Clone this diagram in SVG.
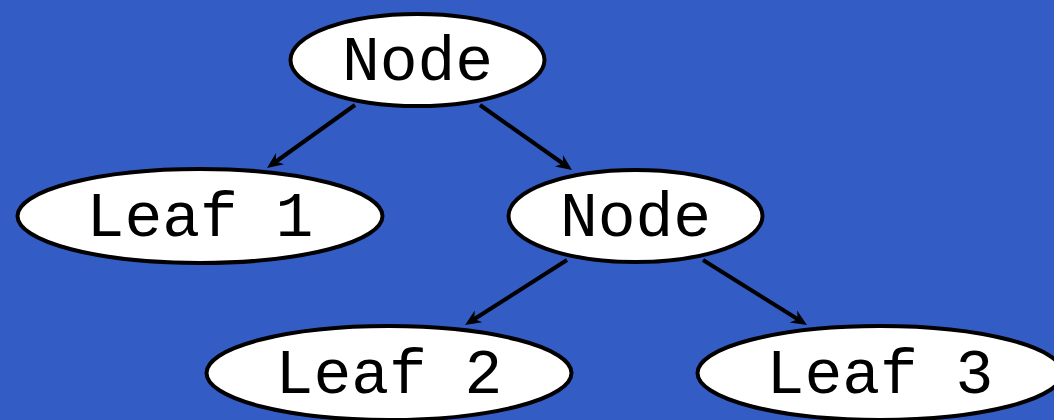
<svg xmlns="http://www.w3.org/2000/svg" width="1054" height="420" viewBox="0 0 1054 420">
<style>
.n{fill:#fff;stroke:#000;stroke-width:4}
.t{font-family:"Liberation Mono","Courier New",monospace;font-size:63px;fill:#000;text-anchor:middle}
.e{stroke:#000;stroke-width:4;fill:none}
</style>
<defs>
<marker id="ah" markerUnits="userSpaceOnUse" viewBox="-12 -8 20 16" refX="0" refY="0" markerWidth="20" markerHeight="16" orient="auto" overflow="visible">
<path d="M6,0 L-10,-7 L-5,0 L-10,7 Z" fill="#000"/>
</marker>
</defs>
<rect width="1054" height="420" fill="#335cc5"/>
<g id="connectors">
<line class="e" x1="355" y1="105" x2="271.9" y2="164.5" marker-end="url(#ah)"/>
<line class="e" x1="480" y1="105" x2="567.1" y2="166.5" marker-end="url(#ah)"/>
<line class="e" x1="567" y1="260" x2="470.1" y2="321.8" marker-end="url(#ah)"/>
<line class="e" x1="703" y1="260" x2="801.9" y2="321.8" marker-end="url(#ah)"/>
</g>
<g id="node1"><ellipse class="n" cx="417.5" cy="60" rx="127" ry="46"/><text class="t" x="417.5" y="80">Node</text></g>
<g id="leaf1"><ellipse class="n" cx="200" cy="216" rx="182.5" ry="47"/><text class="t" x="200" y="236">Leaf 1</text></g>
<g id="node2"><ellipse class="n" cx="635.5" cy="216" rx="127" ry="46"/><text class="t" x="635.5" y="236">Node</text></g>
<g id="leaf2"><ellipse class="n" cx="389" cy="373" rx="182.5" ry="47"/><text class="t" x="389" y="393">Leaf 2</text></g>
<g id="leaf3"><ellipse class="n" cx="880" cy="373" rx="182.5" ry="47"/><text class="t" x="880" y="393">Leaf 3</text></g>
</svg>
